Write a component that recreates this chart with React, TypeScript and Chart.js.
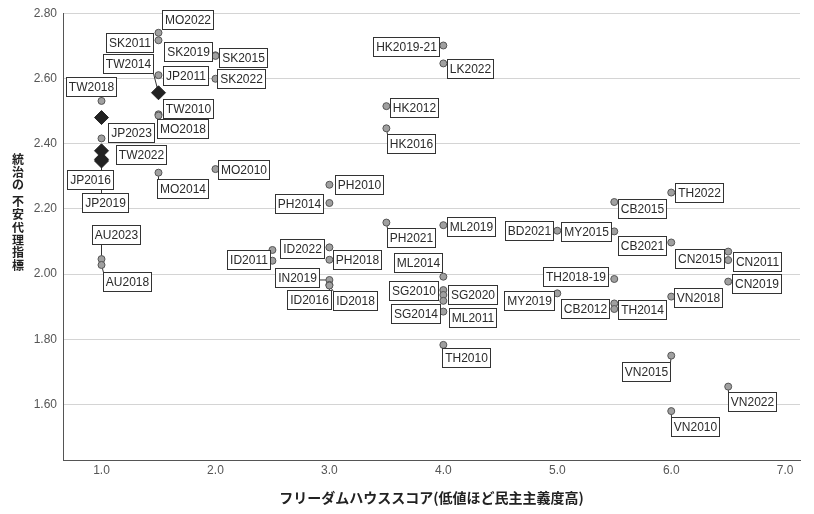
import React, { useEffect, useRef } from "react";
import { Chart, registerables } from "chart.js";

Chart.register(...registerables);

// ---- data ----
const pointLabels: string[] = [
  "MO2022", "SK2011", "SK2019", "SK2015", "TW2014", "JP2011", "SK2022", "TW2018",
  "TW2010", "MO2018", "JP2023", "TW2022", "JP2016", "JP2019", "MO2010", "MO2014",
  "AU2023", "AU2018", "ID2011", "ID2022", "PH2018", "IN2019", "ID2016", "ID2018",
  "PH2010", "PH2014", "HK2019-21", "LK2022", "HK2012", "HK2016", "PH2021", "ML2019",
  "ML2014", "SG2010", "SG2020", "SG2014", "ML2011", "TH2010", "BD2021", "MY2015",
  "CB2015", "TH2022", "CB2021", "CN2015", "CN2011", "TH2018-19", "MY2019", "CB2012",
  "TH2014", "VN2018", "CN2019", "VN2015", "VN2022", "VN2010", "", "",
];

const freedomHouseScore: number[] = [
  1.5, 1.5, 2.0, 2.0, 1.5, 1.5, 2.0, 1.0,
  1.5, 1.5, 1.0, 1.0, 1.0, 1.0, 2.0, 1.5,
  1.0, 1.0, 2.5, 3.0, 3.0, 3.0, 3.0, 3.0,
  3.0, 3.0, 4.0, 4.0, 3.5, 3.5, 3.5, 4.0,
  4.0, 4.0, 4.0, 4.0, 4.0, 4.0, 5.0, 5.5,
  5.5, 6.0, 6.0, 6.5, 6.5, 5.5, 5.0, 5.5,
  5.5, 6.0, 6.5, 6.0, 6.5, 6.0, 2.5, 1.0,
];

const instabilityIndex: number[] = [
  2.740, 2.717, 2.671, 2.669, 2.556, 2.610, 2.599, 2.531,
  2.490, 2.486, 2.416, 2.378, 2.352, 2.347, 2.322, 2.311,
  2.046, 2.028, 2.041, 2.082, 2.044, 1.982, 1.967, 1.965,
  2.274, 2.218, 2.701, 2.646, 2.515, 2.447, 2.158, 2.150,
  1.992, 1.951, 1.936, 1.918, 1.885, 1.783, 2.133, 2.131,
  2.221, 2.250, 2.097, 2.069, 2.043, 1.985, 1.941, 1.910,
  1.893, 1.931, 1.977, 1.750, 1.655, 1.580, 2.074, 2.480,
];

// "c" = circle, "d" = diamond
const markerShape: string[] = [
  "c", "c", "c", "c", "d", "c", "c", "c",
  "c", "c", "c", "d", "d", "d", "c", "c",
  "c", "c", "c", "c", "c", "c", "c", "c",
  "c", "c", "c", "c", "c", "c", "c", "c",
  "c", "c", "c", "c", "c", "c", "c", "c",
  "c", "c", "c", "c", "c", "c", "c", "c",
  "c", "c", "c", "c", "c", "c", "c", "d",
];

const xTickValues: number[] = [1, 2, 3, 4, 5, 6, 7];
const yTickValues: number[] = [1.6, 1.8, 2.0, 2.2, 2.4, 2.6, 2.8];

const xTitle = "フリーダムハウススコア(低値ほど民主主義度高)";
const yTitle = "統治の 不安代理指標";

// ---- label layout: [box-center dx, box-center dy, leader line] (pixels, relative to the point) ----
const labelLayout: [number, number, number][] = [
  [29, -13, 0], [-29, 2.5, 0], [-27, -4, 0], [28, 2, 0], [-30, -29, 1], [27, 0, 0], [26, 0, 0], [-11, -14.5, 1],
  [30, -6, 0], [24, 13, 1], [29, -6, 0], [39, 4, 0], [-12, 20, 1], [3.5, 41.5, 1], [28, 0, 0], [24, 16, 1],
  [14, -25, 1], [25, 17, 1], [-24, -1.5, 0], [-27, 1, 0], [28, 0, 0], [-32, -2, 1], [-20, 15, 1], [26, 15, 1],
  [30, 0, 0], [-30, 0, 0], [-37, 1, 0], [27, 5, 0], [28, 1, 0], [25, 15, 1], [25, 15, 1], [28, 1, 0],
  [-25, -14, 1], [-30, 0, 0], [29, 0, 0], [-28, 13, 0], [29, 6, 0], [23, 13, 1], [-28, 0, 0], [-28, 0, 0],
  [28, 6, 0], [27.5, 0, 0], [-29, 3, 0], [-29, 7, 0], [29, 1, 0], [-39, -2, 0], [-28, 7, 0], [-29, 5, 0],
  [28, 0, 0], [27, 1, 0], [28, 2, 0], [-25, 16, 1], [24, 15, 1], [24, 15, 1], [0, 0, 0], [0, 0, 0],
];

const LABEL_FONT = '12px "Liberation Sans", Arial, sans-serif';
const BOX_H = 19;

function boxFor(ctx: CanvasRenderingContext2D, text: string, px: number, py: number, dx: number, dy: number) {
  ctx.font = LABEL_FONT;
  const w = Math.round(ctx.measureText(text).width + 5);
  const cx = px + dx;
  const cy = py + dy;
  const l = Math.round(cx - w / 2) + 0.5;
  const t = Math.round(cy - BOX_H / 2) + 0.5;
  return { l, t, w, h: BOX_H, cx: l + w / 2, cy: t + BOX_H / 2 };
}

const labelPlugin = {
  id: "boxLabels",
  beforeDatasetsDraw(chart: any) {
    const ctx: CanvasRenderingContext2D = chart.ctx;
    const xs = chart.scales.x;
    const ys = chart.scales.y;
    ctx.save();
    ctx.strokeStyle = "#333";
    ctx.lineWidth = 1;
    pointLabels.forEach((txt, i) => {
      if (!txt || !labelLayout[i][2]) return;
      const px = xs.getPixelForValue(freedomHouseScore[i]);
      const py = ys.getPixelForValue(instabilityIndex[i]);
      const b = boxFor(ctx, txt, px, py, labelLayout[i][0], labelLayout[i][1]);
      const nx = Math.min(Math.max(px, b.l), b.l + b.w);
      const ny = Math.min(Math.max(py, b.t), b.t + b.h);
      ctx.beginPath();
      ctx.moveTo(px, py);
      ctx.lineTo(nx, ny);
      ctx.stroke();
    });
    ctx.restore();
  },
  afterDatasetsDraw(chart: any) {
    const ctx: CanvasRenderingContext2D = chart.ctx;
    const xs = chart.scales.x;
    const ys = chart.scales.y;
    ctx.save();
    pointLabels.forEach((txt, i) => {
      if (!txt) return;
      const px = xs.getPixelForValue(freedomHouseScore[i]);
      const py = ys.getPixelForValue(instabilityIndex[i]);
      const b = boxFor(ctx, txt, px, py, labelLayout[i][0], labelLayout[i][1]);
      ctx.fillStyle = "#ffffff";
      ctx.fillRect(b.l, b.t, b.w, b.h);
      ctx.strokeStyle = "#333";
      ctx.lineWidth = 1;
      ctx.strokeRect(b.l, b.t, b.w, b.h);
      ctx.fillStyle = "#2a2a2a";
      ctx.font = LABEL_FONT;
      ctx.textAlign = "center";
      ctx.textBaseline = "middle";
      ctx.fillText(txt, b.cx, b.cy + 0.5);
    });
    ctx.restore();
  },
  afterDraw(chart: any) {
    const ctx: CanvasRenderingContext2D = chart.ctx;
    const area = chart.chartArea;
    ctx.save();
    ctx.fillStyle = "#222";
    ctx.font = 'bold 12px "Noto Sans CJK JP", sans-serif';
    ctx.textAlign = "center";
    ctx.textBaseline = "middle";
    const x = area.left - 45;
    let y = area.top + 146;
    for (const ch of Array.from(yTitle)) {
      if (ch === " ") {
        y += 4;
        continue;
      }
      ctx.fillText(ch, x, y);
      y += 12.8;
    }
    ctx.restore();
  },
};

export default function App() {
  const canvasRef = useRef<HTMLCanvasElement | null>(null);

  useEffect(() => {
    if (!canvasRef.current) return;
    const circles = freedomHouseScore
      .map((x, i) => ({ x, y: instabilityIndex[i], s: markerShape[i] }))
      .filter((p) => p.s === "c")
      .map((p) => ({ x: p.x, y: p.y }));
    const diamonds = freedomHouseScore
      .map((x, i) => ({ x, y: instabilityIndex[i], s: markerShape[i] }))
      .filter((p) => p.s === "d")
      .map((p) => ({ x: p.x, y: p.y }));

    const tickFont = { family: '"Liberation Sans Narrow", "Liberation Sans", Arial, sans-serif', size: 12 };
    const titleFamily = '"Noto Sans CJK JP", sans-serif';

    const chart = new Chart(canvasRef.current, {
      type: "scatter",
      data: {
        datasets: [
          {
            data: circles,
            pointStyle: "circle",
            pointRadius: 3.5,
            pointBackgroundColor: "#a0a0a0",
            pointBorderColor: "#555555",
            pointBorderWidth: 1,
          },
          {
            data: diamonds,
            pointStyle: "rectRot",
            pointRadius: 7,
            pointBackgroundColor: "#222222",
            pointBorderColor: "#222222",
            pointBorderWidth: 1,
          },
        ],
      },
      options: {
        animation: false,
        responsive: false,
        maintainAspectRatio: false,
        events: [],
        layout: { padding: { top: 12, right: 14, left: 0, bottom: 0 } },
        plugins: { legend: { display: false }, tooltip: { enabled: false } },
        scales: {
          x: {
            type: "linear",
            min: 0.662,
            max: 7.13,
            afterBuildTicks: (s: any) => {
              s.ticks = xTickValues.map((v) => ({ value: v }));
            },
            afterFit: (s: any) => {
              s.height = 54;
            },
            ticks: {
              callback: (v: any) => Number(v).toFixed(1),
              font: tickFont,
              color: "#555",
              padding: 3,
              maxRotation: 0,
              autoSkip: false,
            },
            grid: { display: false, drawTicks: false },
            border: { display: true, color: "#555", width: 1 },
            title: {
              display: true,
              text: xTitle,
              color: "#222",
              font: { family: titleFamily, size: 14, weight: "bold" },
              padding: { top: 4, bottom: 8 },
            },
          },
          y: {
            type: "linear",
            min: 1.43,
            max: 2.8,
            afterBuildTicks: (s: any) => {
              s.ticks = yTickValues.map((v) => ({ value: v }));
            },
            afterFit: (s: any) => {
              s.width = 63;
            },
            ticks: {
              callback: (v: any) => Number(v).toFixed(2),
              font: tickFont,
              color: "#555",
              padding: 6,
              autoSkip: false,
            },
            grid: { color: "#d4d4d4", lineWidth: 1, drawTicks: false },
            border: { display: true, color: "#555", width: 1 },
          },
        },
      },
      plugins: [labelPlugin],
    } as any);

    return () => {
      chart.destroy();
    };
  }, []);

  return (
    <div style={{ position: "absolute", left: 0, top: 0, width: 814, height: 514, background: "#fff" }}>
      <canvas ref={canvasRef} width={814} height={514} style={{ width: 814, height: 514, display: "block" }} />
    </div>
  );
}
